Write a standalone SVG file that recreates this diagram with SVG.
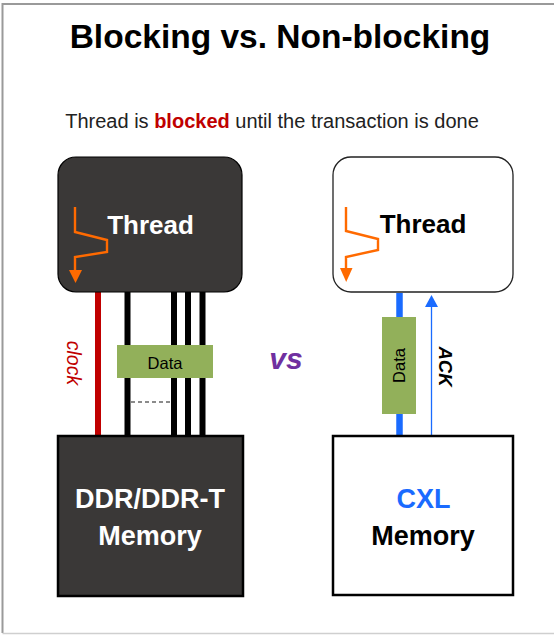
<svg xmlns="http://www.w3.org/2000/svg" width="554" height="635" viewBox="0 0 554 635">
<style>
text{font-family:"Liberation Sans",Arial,sans-serif}
.b{font-weight:bold}
.dark{fill:#3a3837;stroke:#000;stroke-width:1.2}
.darkm{fill:#3a3837;stroke:#000;stroke-width:2.5}
.light{fill:#fff;stroke:#222;stroke-width:1.3}
.lightm{fill:#fff;stroke:#000;stroke-width:2.5}
.sq{fill:none;stroke:#ff6a00;stroke-width:2.4}
.sqh{fill:#ff6a00}
.bus{stroke:#000;stroke-width:6}
.data{fill:#92b05a}
</style>
<rect x="0" y="0" width="554" height="635" fill="#fff"/>
<path d="M2.5 633 V4 H554" fill="none" stroke="#9a9a9a" stroke-width="2"/>
<path d="M2.5 633.5 H554" fill="none" stroke="#cfcfcf" stroke-width="1.5"/>

<g id="title">
<text x="280" y="48" font-size="33.5" class="b" text-anchor="middle" fill="#000">Blocking vs. Non-blocking</text>
<text x="272" y="128" font-size="20" text-anchor="middle" fill="#222">Thread is <tspan class="b" fill="#c00000">blocked</tspan> until the transaction is done</text>
</g>

<g id="connectors">
<line x1="98" y1="292" x2="98" y2="436" stroke="#c00000" stroke-width="6"/>
<line class="bus" x1="127.5" y1="292" x2="127.5" y2="436"/>
<line class="bus" x1="174" y1="292" x2="174" y2="436"/>
<line class="bus" x1="188" y1="292" x2="188" y2="436"/>
<line class="bus" x1="202.5" y1="292" x2="202.5" y2="436"/>
<line x1="131" y1="402" x2="171" y2="402" stroke="#666" stroke-width="1.5" stroke-dasharray="4 3"/>
<line x1="399.5" y1="293" x2="399.5" y2="437" stroke="#1a6bff" stroke-width="6.5"/>
<line x1="431.5" y1="437" x2="431.5" y2="305" stroke="#1a6bff" stroke-width="1.3"/>
<polygon points="425,307 438,307 431.5,295" fill="#1a6bff"/>
<text transform="translate(67,363) rotate(90)" font-size="19.5" font-style="italic" text-anchor="middle" fill="#c00000">clock</text>
<text transform="translate(439,366.5) rotate(90)" font-size="18.5" class="b" font-style="italic" text-anchor="middle" fill="#000">ACK</text>
</g>

<g id="data-left">
<rect class="data" x="117" y="345" width="96" height="33"/>
<text x="165" y="369" font-size="16.5" text-anchor="middle" fill="#000">Data</text>
</g>

<g id="data-right">
<rect class="data" x="382" y="317" width="34" height="97"/>
<text transform="translate(405,365.5) rotate(-90)" font-size="16.5" text-anchor="middle" fill="#000">Data</text>
</g>

<g id="vs">
<text x="286" y="369" font-size="30" class="b" font-style="italic" text-anchor="middle" fill="#7030a0">vs</text>
</g>

<g id="thread-left">
<rect class="dark" x="58" y="157" width="184" height="135" rx="18"/>
<polyline class="sq" points="75,207 75,232 107,240 107,252 75,257 75,271"/>
<polygon class="sqh" points="69,270 82,270 75.5,283"/>
<text x="150.5" y="234" font-size="26" class="b" text-anchor="middle" fill="#fff">Thread</text>
</g>

<g id="thread-right">
<rect class="light" x="333" y="157" width="180" height="135" rx="18"/>
<polyline class="sq" points="346,207 346,231 378,239 378,250 346,257 346,269"/>
<polygon class="sqh" points="340,268 352.5,268 346.2,282"/>
<text x="423" y="233" font-size="26" class="b" text-anchor="middle" fill="#000">Thread</text>
</g>

<g id="memory-left">
<rect class="darkm" x="58" y="436" width="185" height="160"/>
<text x="150" y="508" font-size="27" class="b" text-anchor="middle" fill="#fff">DDR/DDR-T</text>
<text x="150" y="545" font-size="27" class="b" text-anchor="middle" fill="#fff">Memory</text>
</g>

<g id="memory-right">
<rect class="lightm" x="333" y="436" width="180" height="159"/>
<text x="423.5" y="508" font-size="27" class="b" text-anchor="middle" fill="#1a6bff">CXL</text>
<text x="423" y="545" font-size="27" class="b" text-anchor="middle" fill="#000">Memory</text>
</g>
</svg>
